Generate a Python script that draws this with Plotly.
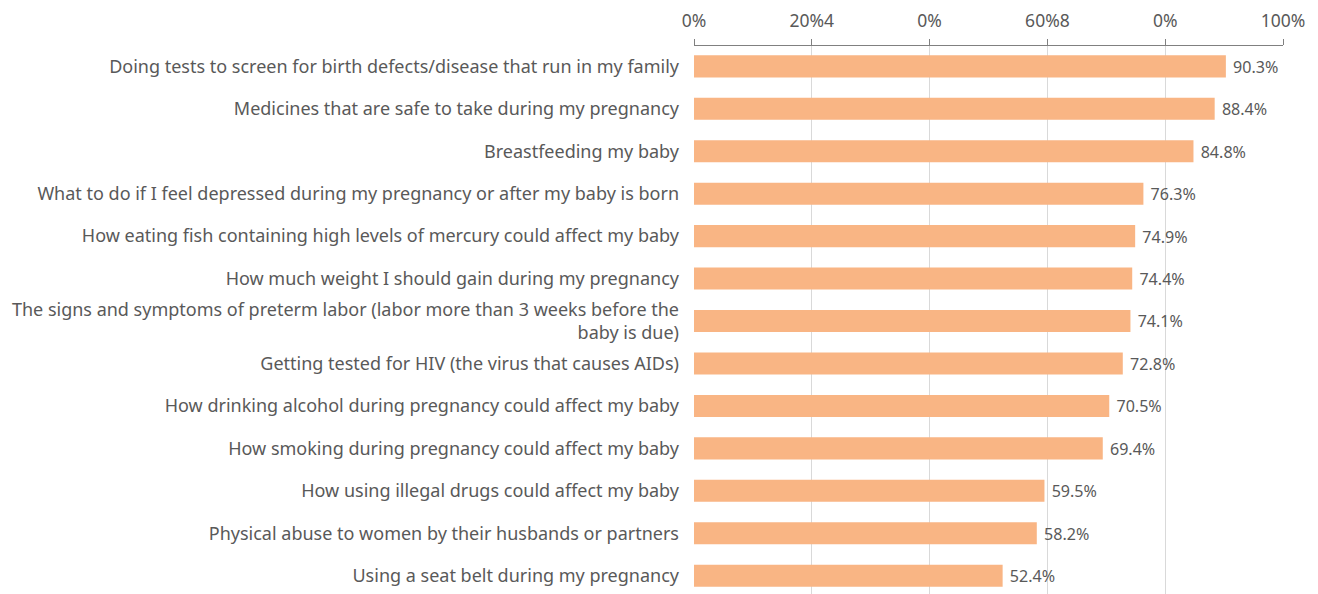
import plotly.graph_objects as go

categories = [
    "Doing tests to screen for birth defects/disease that run in my family",
    "Medicines that are safe to take during my pregnancy",
    "Breastfeeding my baby",
    "What to do if I feel depressed during my pregnancy or after my baby is born",
    "How eating fish containing high levels of mercury could affect my baby",
    "How much weight I should gain during my pregnancy",
    "The signs and symptoms of preterm labor (labor more than 3 weeks before the<br>baby is due)",
    "Getting tested for HIV (the virus that causes AIDs)",
    "How drinking alcohol during pregnancy could affect my baby",
    "How smoking during pregnancy could affect my baby",
    "How using illegal drugs could affect my baby",
    "Physical abuse to women by their husbands or partners",
    "Using a seat belt during my pregnancy",
]
values = [90.3, 88.4, 84.8, 76.3, 74.9, 74.4, 74.1, 72.8, 70.5, 69.4, 59.5, 58.2, 52.4]
tick_vals = [0, 20, 40, 60, 80, 100]
tick_text = ["0%", "20%4", "0%", "60%8", "0%", "100%"]

FONT = "Noto Sans"
GRAY = "#595959"

fig = go.Figure(go.Bar(
    x=values,
    y=categories,
    orientation="h",
    marker=dict(color="#F9B584", line=dict(width=0)),
    width=0.52,
    text=["\u00a0" + f"{v:.1f}%" for v in values],
    textposition="outside",
    textfont=dict(family=FONT, size=17.5, color=GRAY),
    cliponaxis=False,
))

fig.update_layout(
    width=1318, height=594,
    margin=dict(l=686, r=43, t=35, b=0),
    paper_bgcolor="white", plot_bgcolor="white",
    showlegend=False,
    font=dict(family=FONT, size=17.5, color=GRAY),
    xaxis=dict(
        side="top", range=[0, 100],
        tickvals=tick_vals, ticktext=tick_text,
        showgrid=True, gridcolor="#D9D9D9", gridwidth=1,
        showline=True, linecolor="#808080", linewidth=1,
        ticks="outside", ticklen=6, tickcolor="#808080",
        ticklabelstandoff=5,
        zeroline=False,
        tickfont=dict(family=FONT, size=17.5, color=GRAY),
    ),
    yaxis=dict(
        range=[12.62, -0.48],
        showgrid=False, showline=False, zeroline=False,
        ticks="", ticklabelstandoff=14,
        tickfont=dict(family=FONT, size=18, color=GRAY),
    ),
)

fig.write_html("out.html")
